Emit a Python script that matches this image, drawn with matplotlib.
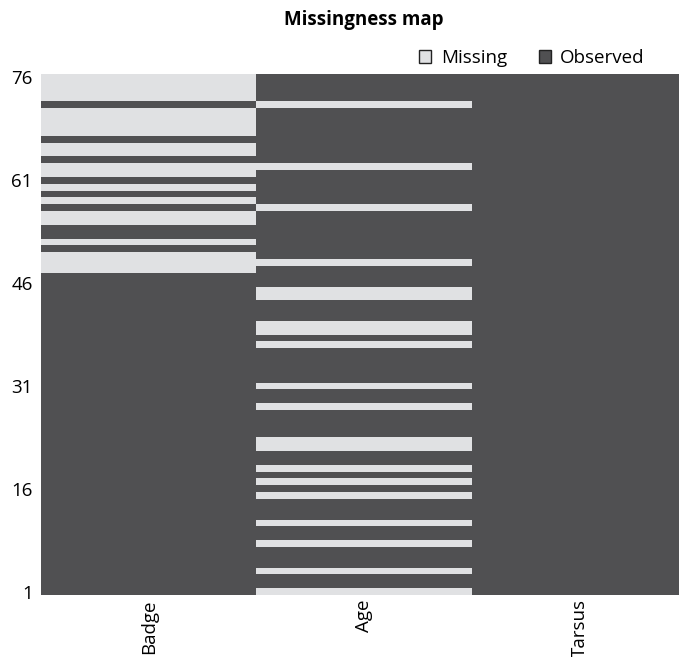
import numpy as np
from matplotlib import pyplot as plt
from matplotlib.colors import ListedColormap
from matplotlib.patches import Patch

plt.rcParams['font.family'] = ['Open Sans', 'DejaVu Sans']

variables = ['Badge', 'Age', 'Tarsus']
n_rows = 76
badge_missing = [76, 75, 74, 73, 71, 70, 69, 68, 66, 65, 63, 62, 60, 58,
                 56, 55, 52, 50, 49, 48]
age_missing = [72, 63, 57, 49, 45, 44, 40, 39, 37, 31, 28, 23, 22, 19, 17,
               15, 11, 8, 4, 1]
tarsus_missing = []
ytick_rows = [1, 16, 31, 46, 61, 76]

light = '#e0e1e3'
dark = '#505052'

# 1 = observed, 0 = missing ; row index 0 is row "1" at the bottom
observed = np.ones((n_rows, len(variables)))
for j, miss in enumerate([badge_missing, age_missing, tarsus_missing]):
    for r in miss:
        observed[r - 1, j] = 0

fig = plt.figure(figsize=(6.79, 6.57), dpi=100)
ax = fig.add_axes([41 / 679, 1 - 595 / 657, (679 - 41) / 679, (595 - 74) / 657])
ax.imshow(observed, cmap=ListedColormap([light, dark]), vmin=0, vmax=1,
          origin='lower', aspect='auto', interpolation='nearest',
          extent=(-0.5, 2.5, 0.5, n_rows + 0.5))
ax.set_xlim(-0.5, 2.46)
ax.set_ylim(0.5, n_rows + 0.5)
for s in ax.spines.values():
    s.set_visible(False)
ax.set_xticks(range(len(variables)))
ax.set_xticklabels(variables, rotation=90, fontsize=13.5)
ax.set_yticks(ytick_rows)
ax.set_yticklabels([str(v) for v in ytick_rows], fontsize=13.5)
ax.tick_params(length=0, pad=6)
ax.tick_params(axis='x', pad=3)

fig.text(364 / 679, 1 - 20 / 657, 'Missingness map', ha='center', va='center',
         fontsize=13.5, fontweight='bold')

handles = [Patch(facecolor=light, edgecolor='#222222', linewidth=1),
           Patch(facecolor=dark, edgecolor='#222222', linewidth=1)]
fig.legend(handles, ['Missing', 'Observed'], ncol=2, frameon=False,
           loc='center left', bbox_to_anchor=(406 / 679, 1 - 58 / 657),
           fontsize=13.5, handlelength=0.65, handleheight=0.65,
           handletextpad=0.5, columnspacing=1.7, borderpad=0.2)

fig.savefig('out.png', dpi=100)
